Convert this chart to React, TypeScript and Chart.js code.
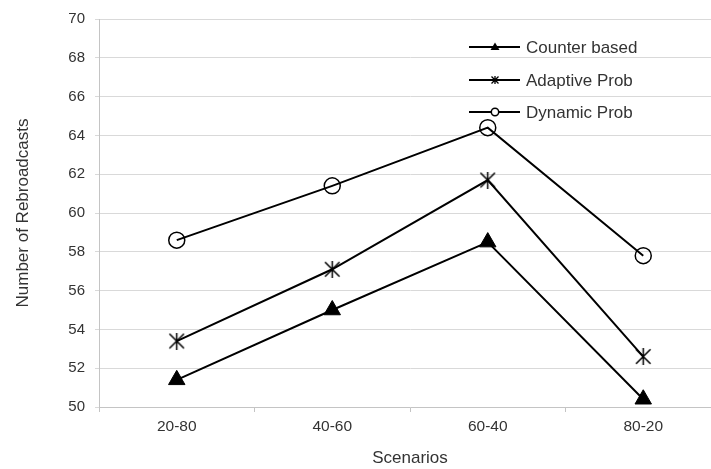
import React, { useEffect, useRef } from 'react';
import { Chart, registerables } from 'chart.js';

Chart.register(...registerables);

const categories = ['20-80', '40-60', '60-40', '80-20'];
const counterBased = [51.4, 55.0, 58.5, 50.4];
const adaptiveProb = [53.4, 57.1, 61.7, 52.6];
const dynamicProb = [58.6, 61.4, 64.4, 57.8];
const seriesNames = ['Counter based', 'Adaptive Prob', 'Dynamic Prob'];
const yMin = 50;
const yMax = 70;
const yStep = 2;
const xTitle = 'Scenarios';
const yTitle = 'Number of Rebroadcasts';

const FONT = "'Liberation Sans', Arial, sans-serif";
const TEXT = '#333333';
const GRID = '#d9d9d9';
const AXIS = '#c4c4c4';
const CANVAS_W = 722;
const CANVAS_H = 469;

function makeStar(size: number, lw: number): HTMLCanvasElement {
  const c = document.createElement('canvas');
  c.width = size;
  c.height = size;
  const ctx = c.getContext('2d')!;
  ctx.strokeStyle = '#000';
  ctx.lineWidth = lw;
  const m = lw / 2 + 0.5;
  ctx.beginPath();
  ctx.moveTo(m, m);
  ctx.lineTo(size - m, size - m);
  ctx.moveTo(size - m, m);
  ctx.lineTo(m, size - m);
  ctx.moveTo(size / 2, 0);
  ctx.lineTo(size / 2, size);
  ctx.stroke();
  return c;
}

function drawLegendMarker(ctx: CanvasRenderingContext2D, kind: string, cx: number, cy: number) {
  ctx.save();
  ctx.fillStyle = '#000';
  ctx.strokeStyle = '#000';
  if (kind === 'triangle') {
    ctx.beginPath();
    ctx.moveTo(cx, cy - 4.5);
    ctx.lineTo(cx + 4.5, cy + 3);
    ctx.lineTo(cx - 4.5, cy + 3);
    ctx.closePath();
    ctx.fill();
  } else if (kind === 'star') {
    ctx.lineWidth = 1.3;
    ctx.beginPath();
    ctx.moveTo(cx - 3.5, cy - 3.5);
    ctx.lineTo(cx + 3.5, cy + 3.5);
    ctx.moveTo(cx + 3.5, cy - 3.5);
    ctx.lineTo(cx - 3.5, cy + 3.5);
    ctx.moveTo(cx, cy - 4);
    ctx.lineTo(cx, cy + 4);
    ctx.stroke();
  } else {
    ctx.lineWidth = 1.5;
    ctx.fillStyle = '#fff';
    ctx.beginPath();
    ctx.arc(cx, cy, 3.7, 0, Math.PI * 2);
    ctx.fill();
    ctx.stroke();
  }
  ctx.restore();
}

const legendKinds = ['triangle', 'star', 'circle'];

const insideLegend = {
  id: 'insideLegend',
  afterDraw(chart: any) {
    const { ctx, chartArea } = chart;
    const x0 = chartArea.left + 370;
    chart.data.datasets.forEach((ds: any, i: number) => {
      const y = Math.round(chartArea.top + 28 + i * 32.7);
      ctx.save();
      ctx.strokeStyle = '#000';
      ctx.lineWidth = 2;
      ctx.beginPath();
      ctx.moveTo(x0, y);
      ctx.lineTo(x0 + 51, y);
      ctx.stroke();
      drawLegendMarker(ctx, legendKinds[i], x0 + 26, y);
      ctx.fillStyle = TEXT;
      ctx.font = `17px ${FONT}`;
      ctx.textBaseline = 'middle';
      ctx.textAlign = 'left';
      ctx.fillText(ds.label, x0 + 57, y + 1);
      ctx.restore();
    });
  },
};

export default function App() {
  const canvasRef = useRef<HTMLCanvasElement | null>(null);

  useEffect(() => {
    const canvas = canvasRef.current;
    if (!canvas) return;
    const star = makeStar(17, 1.5);
    const chart = new Chart(canvas, {
      type: 'line',
      data: {
        labels: categories,
        datasets: [
          {
            label: seriesNames[0],
            data: counterBased,
            borderColor: '#000',
            borderWidth: 2,
            backgroundColor: '#000',
            pointStyle: 'triangle',
            pointRadius: 9.5,
            pointBorderWidth: 1,
            pointBackgroundColor: '#000',
            pointBorderColor: '#000',
            tension: 0,
            fill: false,
          },
          {
            label: seriesNames[1],
            data: adaptiveProb,
            borderColor: '#000',
            borderWidth: 2,
            backgroundColor: '#000',
            pointStyle: star as any,
            pointRadius: 9,
            tension: 0,
            fill: false,
          },
          {
            label: seriesNames[2],
            data: dynamicProb,
            borderColor: '#000',
            borderWidth: 2,
            backgroundColor: 'rgba(0,0,0,0)',
            pointStyle: 'circle',
            pointRadius: 8,
            pointBorderWidth: 1.5,
            pointBackgroundColor: 'rgba(0,0,0,0)',
            pointBorderColor: '#000',
            tension: 0,
            fill: false,
          },
        ],
      },
      options: {
        animation: false,
        responsive: false,
        maintainAspectRatio: false,
        devicePixelRatio: 1,
        layout: { autoPadding: false, padding: { top: 16, left: 0, right: 1, bottom: 0 } },
        plugins: {
          legend: { display: false },
          tooltip: { enabled: false },
        },
        scales: {
          x: {
            type: 'category',
            offset: true,
            grid: {
              display: true,
              drawOnChartArea: false,
              drawTicks: true,
              tickLength: 5,
              offset: true,
              color: AXIS,
            },
            border: { display: true, color: AXIS, width: 1 },
            ticks: {
              color: TEXT,
              font: { family: FONT, size: 15.5 },
              padding: 5,
              maxRotation: 0,
            },
            title: {
              display: true,
              text: xTitle,
              color: TEXT,
              font: { family: FONT, size: 17 },
              padding: { top: 0, bottom: 0 },
            },
            afterFit(scale: any) {
              scale.height = 62;
            },
          },
          y: {
            min: yMin,
            max: yMax,
            grid: {
              color: GRID,
              lineWidth: 1,
              tickLength: 4,
              drawTicks: true,
            },
            border: { display: true, color: AXIS, width: 1 },
            ticks: {
              stepSize: yStep,
              color: TEXT,
              font: { family: FONT, size: 15 },
              padding: 10,
            },
            title: {
              display: true,
              text: yTitle,
              color: TEXT,
              font: { family: FONT, size: 17 },
              padding: { top: 13.5, bottom: 0 },
            },
            afterFit(scale: any) {
              scale.width = 99;
            },
          },
        },
      },
      plugins: [insideLegend],
    });
    return () => {
      chart.destroy();
    };
  }, []);

  return (
    <div
      style={{
        position: 'fixed',
        left: 0,
        top: 0,
        width: 711,
        height: 469,
        overflow: 'hidden',
        background: '#fff',
      }}
    >
      <canvas
        ref={canvasRef}
        width={CANVAS_W}
        height={CANVAS_H}
        style={{
          display: 'block',
          width: CANVAS_W,
          height: CANVAS_H,
          maxWidth: 'none',
          maxHeight: 'none',
        }}
      />
    </div>
  );
}
